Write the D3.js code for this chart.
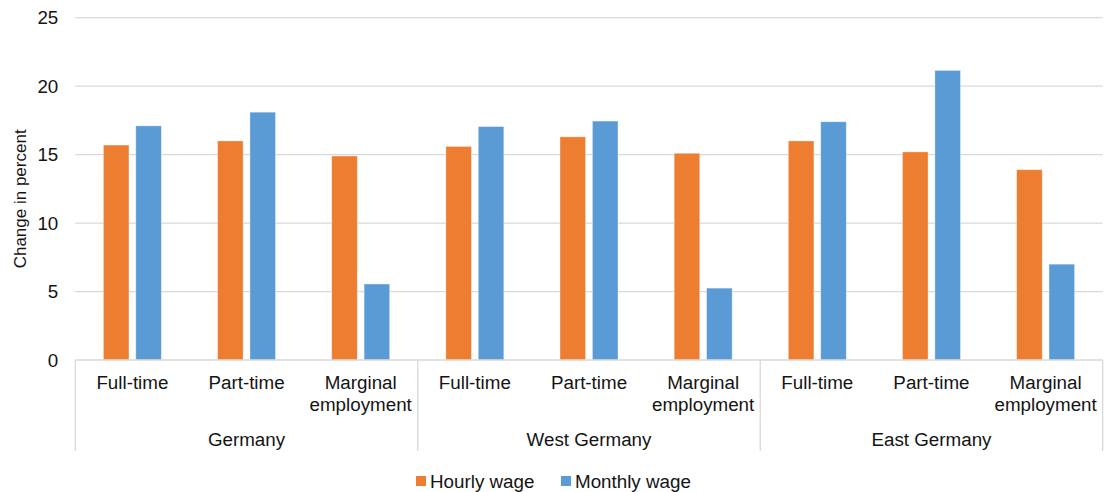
<!DOCTYPE html>
<html>
<head>
<meta charset="utf-8">
<script src="https://cdn.jsdelivr.net/npm/d3@7/dist/d3.min.js"></script>
<style>
  html, body { margin: 0; padding: 0; background: #fff; }
  svg { display: block; font-family: "Liberation Sans", Arial, sans-serif; }
</style>
</head>
<body>
<svg id="chart" width="1105" height="492"></svg>
<script>
// Regions and employment types (two-level category axis)
const regions = ["Germany", "West Germany", "East Germany"];
const employmentTypes = ["Full-time", "Part-time", "Marginal employment"];
const seriesNames = ["Hourly wage", "Monthly wage"];

// Change in percent, per region, in employmentTypes order
const hourlyWage  = [15.7, 16.0, 14.9,  15.6, 16.3, 15.1,  16.0, 15.2, 13.9];
const monthlyWage = [17.1, 18.1, 5.55,  17.05, 17.45, 5.25,  17.4, 21.15, 7.0];

const yTicks = [0, 5, 10, 15, 20, 25];

const colors = { "Hourly wage": "#ED7D31", "Monthly wage": "#5B9BD5" };
const textColor = "#141414";
const gridColor = "#d9d9d9";
const fontSize = 18.8;

const svg = d3.select("#chart");
const margin = { left: 75.3, right: 2.3, top: 17.7, bottom: 132 };
const W = 1105, H = 492;
const plotBottom = H - margin.bottom; // y of value 0

// One entry per (region, employment type) pair
const rows = [];
regions.forEach((r, ri) => {
  employmentTypes.forEach((t, ti) => {
    const i = ri * employmentTypes.length + ti;
    rows.push({ key: r + "|" + t, region: r, type: t,
                "Hourly wage": hourlyWage[i], "Monthly wage": monthlyWage[i] });
  });
});

const x0 = d3.scaleBand()
  .domain(rows.map(d => d.key))
  .range([margin.left, W - margin.right])
  .padding(0);

const x1 = d3.scaleBand()
  .domain(seriesNames)
  .range([0, x0.bandwidth()])
  .paddingInner(0.21)
  .paddingOuter(0.867);

const y = d3.scaleLinear()
  .domain([0, 25])
  .range([plotBottom, margin.top]);

// Horizontal gridlines
svg.append("g")
  .selectAll("line")
  .data(yTicks.filter(v => v > 0))
  .join("line")
  .attr("x1", margin.left).attr("x2", W - margin.right)
  .attr("y1", d => y(d)).attr("y2", d => y(d))
  .attr("stroke", gridColor).attr("stroke-width", 1.3);

// Y tick labels
const yAxis = d3.axisLeft(y).tickValues(yTicks).tickSize(0).tickPadding(17);
const yg = svg.append("g").attr("transform", `translate(${margin.left},0)`).call(yAxis);
yg.select(".domain").remove();
yg.selectAll("text")
  .attr("font-size", fontSize)
  .attr("font-family", "Liberation Sans, Arial, sans-serif")
  .attr("fill", textColor);

// Y axis title
svg.append("text")
  .attr("transform", `translate(26,${(margin.top + plotBottom) / 2 + 10}) rotate(-90)`)
  .attr("text-anchor", "middle")
  .attr("font-size", 17)
  .attr("fill", textColor)
  .text("Change in percent");

// Bars
const groups = svg.append("g")
  .selectAll("g")
  .data(rows)
  .join("g")
  .attr("transform", d => `translate(${x0(d.key)},0)`);

groups.selectAll("rect")
  .data(d => seriesNames.map(s => ({ series: s, value: d[s] })))
  .join("rect")
  .attr("x", d => x1(d.series))
  .attr("width", x1.bandwidth())
  .attr("y", d => y(d.value))
  .attr("height", d => y(0) - y(d.value))
  .attr("fill", d => colors[d.series])
  .attr("stroke", "#ffffff")
  .attr("stroke-opacity", 0.45)
  .attr("stroke-width", 0.8);

// Category axis baseline
svg.append("line")
  .attr("x1", margin.left).attr("x2", W - margin.right)
  .attr("y1", plotBottom).attr("y2", plotBottom)
  .attr("stroke", gridColor).attr("stroke-width", 1.5);

// Region separators (multi-level axis dividers)
const axisBottom = plotBottom + 91;
const nT = employmentTypes.length;
const sepX = [];
regions.forEach((r, ri) => {
  sepX.push(x0(rows[ri * nT].key));
});
sepX.push(W - margin.right);
svg.append("g")
  .selectAll("line")
  .data(sepX)
  .join("line")
  .attr("x1", d => d).attr("x2", d => d)
  .attr("y1", plotBottom).attr("y2", axisBottom)
  .attr("stroke", gridColor).attr("stroke-width", 1.3);

// Employment type labels
const catLabels = svg.append("g")
  .selectAll("text")
  .data(rows)
  .join("text")
  .attr("x", d => x0(d.key) + x0.bandwidth() / 2)
  .attr("y", plotBottom + 29)
  .attr("text-anchor", "middle")
  .attr("font-size", fontSize)
  .attr("fill", textColor);
catLabels.each(function(d) {
  const words = d.type === "Marginal employment" ? ["Marginal", "employment"] : [d.type];
  d3.select(this).selectAll("tspan")
    .data(words)
    .join("tspan")
    .attr("x", x0(d.key) + x0.bandwidth() / 2)
    .attr("dy", (w, i) => i === 0 ? 0 : 22)
    .text(w => w);
});

// Region labels
svg.append("g")
  .selectAll("text")
  .data(regions)
  .join("text")
  .attr("x", (r, ri) => (sepX[ri] + sepX[ri + 1]) / 2)
  .attr("y", plotBottom + 86)
  .attr("text-anchor", "middle")
  .attr("font-size", fontSize)
  .attr("fill", textColor)
  .text(r => r);

// Legend
const legendItems = [
  { name: "Hourly wage", x: 416 },
  { name: "Monthly wage", x: 561 }
];
const lg = svg.append("g")
  .selectAll("g")
  .data(legendItems)
  .join("g")
  .attr("transform", d => `translate(${d.x},476)`);
lg.append("rect")
  .attr("width", 10).attr("height", 10)
  .attr("fill", d => colors[d.name]);
lg.append("text")
  .attr("x", 14).attr("y", 11.5)
  .attr("font-size", fontSize)
  .attr("fill", textColor)
  .text(d => d.name);
</script>
</body>
</html>
